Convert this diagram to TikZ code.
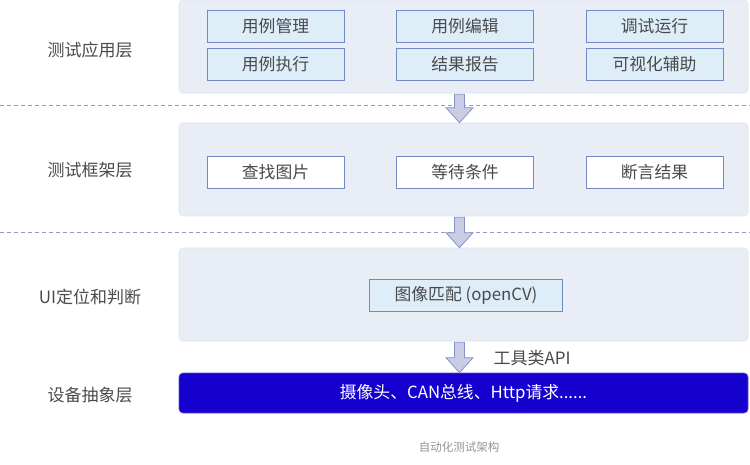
\documentclass[tikz,border=0pt]{standalone}
\usepackage{fontspec}
\setmainfont{Noto Sans CJK SC}
\usetikzlibrary{calc}

\definecolor{panelbg}{HTML}{E9EDF6}
\definecolor{panelline}{HTML}{DEE4F1}
\definecolor{boxline}{HTML}{7489C4}
\definecolor{modbg}{HTML}{DDEEF9}
\definecolor{sepline}{HTML}{8D9BCF}
\definecolor{flowbg}{HTML}{C9CCE2}
\definecolor{flowline}{HTML}{8592C6}
\definecolor{devbg}{HTML}{1500CD}
\definecolor{txt}{HTML}{4A4A4A}

\begin{document}
\begin{tikzpicture}[x=1pt,y=-1pt,
  panel/.style={draw=panelline, fill=panelbg, rounded corners=4pt, line width=0.6pt,
    minimum width=569pt, inner sep=0pt},
  mod/.style={draw=boxline, fill=modbg, line width=0.9pt, minimum width=137pt,
    minimum height=32pt, inner sep=0pt, text=txt, font=\fontsize{16.8}{18}\selectfont},
  step box/.style={mod, fill=white},
  layer/.style={text=txt, font=\fontsize{17}{19}\selectfont},
  sep/.style={draw=sepline, line width=0.8pt, dash pattern=on 4pt off 3pt},
  flow/.style={draw=flowline, fill=flowbg, line width=0.8pt, line join=miter}
]
\useasboundingbox (0,0) rectangle (750,465);

% ===================== Panels =====================
\node[panel, minimum height=93pt] (app)   at (463.5,46.5)  {};
\node[panel, minimum height=93pt] (frame) at (463.5,169.5) {};
\node[panel, minimum height=93pt] (ui)    at (463.5,294.5) {};
\node[panel, minimum height=40pt, fill=devbg, draw=devbg!70!white] (dev) at (463.5,393)
  {\textcolor{white}{\fontsize{16.8}{18}\selectfont 摄像头、CAN总线、Http请求......}};

% Separators
\draw[sep] (0,105) -- (750,105);
\draw[sep] (0,232) -- (750,232);

% ===================== Layer names =====================
\node[layer] (Lapp)   at (90,50)  {测试应用层};
\node[layer] (Lframe) at (90,170) {测试框架层};
\node[layer] (Lui)    at (90,297) {UI定位和判断};
\node[layer] (Ldev)   at (90,395) {设备抽象层};

% ===================== Application layer =====================
\node[mod] (manage) at (275.5,26.5) {用例管理};
\node[mod] (edit)   at (465,26.5)   {用例编辑};
\node[mod] (debug)  at (654.5,26.5) {调试运行};
\node[mod] (run)    at (275.5,64.5) {用例执行};
\node[mod] (report) at (465,64.5)   {结果报告};
\node[mod] (visual) at (654.5,64.5) {可视化辅助};

% ===================== Framework layer =====================
\node[step box] (find)   at (275.5,172) {查找图片};
\node[step box] (wait)   at (465,172)   {等待条件};
\node[step box] (assert) at (654.5,172) {断言结果};

% ===================== UI locating =====================
\node[mod, minimum width=193pt] (match) at (466,295) {图像匹配 (openCV)};

% ===================== Flow arrows =====================
\coordinate (axis) at (459.5,0);
\foreach \a/\b in {app/frame, frame/ui, ui/dev} {
  \path (\a.south -| axis) coordinate (top) (\b.north -| axis) coordinate (tip);
  \draw[flow] ($(top)+(-5,1)$) -- ($(top)+(5,1)$) -- ($(tip)+(5,-15)$)
    -- ($(tip)+(13.5,-15)$) -- (tip) -- ($(tip)+(-13.5,-15)$)
    -- ($(tip)+(-5,-15)$) -- cycle;
}
\node[layer, anchor=west] (api) at (490,358) {工具类API};

% Caption
\node[text=black!42, font=\fontsize{11.5}{13}\selectfont] (cap) at (459,447) {自动化测试架构};

\end{tikzpicture}
\end{document}
